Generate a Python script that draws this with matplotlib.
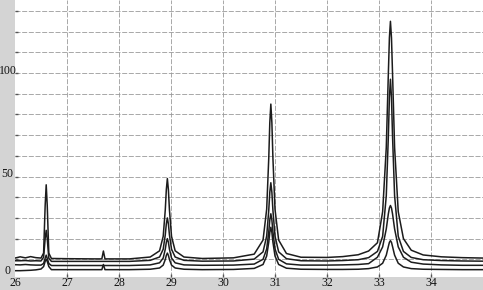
import matplotlib.pyplot as plt

# shared x positions (2-theta)
x = [26.0, 26.1, 26.2, 26.3, 26.4, 26.5, 26.55, 26.58, 26.6, 26.62, 26.65, 26.7,
     27.0, 27.5, 27.67, 27.7, 27.73, 28.2,
     28.6, 28.78, 28.85, 28.89, 28.91, 28.93, 28.95, 28.97, 29.01, 29.08, 29.25, 29.6,
     30.2, 30.6, 30.77, 30.84, 30.88, 30.90, 30.92, 30.94, 30.96, 31.0, 31.07, 31.22, 31.5,
     32.0, 32.3, 32.6, 32.8, 32.97, 33.07, 33.14, 33.18, 33.20, 33.22, 33.24, 33.26,
     33.30, 33.37, 33.47, 33.62, 33.85, 34.2, 34.6, 35.0]

trace_a = [10.6, 11.2, 10.7, 11.3, 10.8, 10.6, 13, 36, 46, 36, 13, 10.4,
           10.3, 10.2, 10.2, 14, 10.2, 10.2,
           11.1, 14.1, 21.1, 33.9, 43.6, 49, 43.6, 33.9, 21.1, 14.1, 11.1, 10.4,
           10.7, 12.5, 19.3, 34.2, 58.9, 76, 85, 76, 58.9, 34.2, 19.3, 12.8, 11.0,
           10.9, 11.3, 12.2, 14.0, 18, 33, 64, 100, 117, 125, 117, 100,
           64, 33, 20, 14.4, 12.1, 11.2, 10.8, 10.6]

trace_b = [9.3, 9.3, 9.4, 9.2, 9.3, 9.2, 11, 20, 24, 20, 10.5, 9.0,
           9.0, 9.0, 9.0, 9.0, 9.0, 9.0,
           9.5, 11.1, 14.9, 21.8, 27.1, 30, 27.1, 21.8, 14.9, 11.1, 9.5, 9.1,
           9.2, 10.1, 13.6, 21.2, 33.7, 42.4, 47, 42.4, 33.7, 21.2, 13.6, 10.3, 9.3,
           9.2, 9.4, 9.8, 10.8, 13.8, 21.1, 40.7, 69.7, 88.2, 97, 88.2, 69.7,
           40.7, 21.1, 13.8, 10.9, 9.8, 9.4, 9.2, 9.1]

trace_c = [7.4, 7.3, 7.5, 7.3, 7.2, 7.2, 8, 10.5, 12, 10.5, 8, 7.0,
           7.0, 7.0, 7.0, 7.0, 7.0, 7.0,
           7.3, 8.3, 10.6, 14.9, 18.2, 20, 18.2, 14.9, 10.6, 8.3, 7.3, 7.1,
           7.2, 7.7, 10.0, 15.0, 23.3, 29, 32, 29, 23.3, 15.0, 10.0, 7.8, 7.2,
           7.2, 7.3, 7.5, 7.9, 11, 16, 24.7, 32, 34.8, 36, 34.8, 32,
           24.7, 16, 11, 8.6, 7.7, 7.3, 7.1, 7.1]

trace_d = [4.5, 4.5, 4.6, 4.7, 4.9, 5.3, 6.5, 9, 10, 9, 6.5, 5.0,
           5.0, 5.0, 5.0, 7.5, 5.0, 5.0,
           5.2, 5.8, 7.2, 9.9, 11.9, 13, 11.9, 9.9, 7.2, 5.8, 5.2, 5.0,
           5.1, 5.6, 7.5, 11.6, 18.3, 23, 25.5, 23, 18.3, 11.6, 7.5, 5.7, 5.2,
           5.1, 5.1, 5.2, 5.5, 6.3, 8.1, 12, 16.2, 18.2, 19, 18.2, 16.2,
           12, 8.1, 6.3, 5.5, 5.2, 5.1, 5.0, 5.0]

x_ticks = [26, 27, 28, 29, 30, 31, 32, 33, 34]
y_labels = [0, 50, 100]

W, H = 483, 290
fig = plt.figure(figsize=(W / 100, H / 100), dpi=100, facecolor='#d4d4d4')
ax = fig.add_axes([15 / W, 13 / H, 468 / W, 277 / H])
ax.set_facecolor('white')

for tr in [trace_d, trace_c, trace_b, trace_a]:
    ax.plot(x, tr, color='#1c1c1c', lw=1.1, zorder=3)

ax.set_xlim(26, 35.0)
ax.set_ylim(1.45, 135.3)

# dashed grid
ax.set_xticks(x_ticks[1:])
ax.set_yticks(range(10, 140, 10))
ax.grid(True, color='#9a9a9a', lw=0.6, dashes=(6, 2))
ax.tick_params(axis='both', direction='in', length=2, width=1, color='#555555',
               labelleft=False, labelbottom=False)
for s in ax.spines.values():
    s.set_visible(False)

font = dict(family='Liberation Serif', fontsize=8.5, color='#111111')
for t in x_ticks:
    ax.text(t, -0.022, str(t), transform=ax.get_xaxis_transform(),
            ha='center', va='center', clip_on=False, **font)
# y labels sit in the grey strip and spill into the plot
for v in y_labels:
    ax.text(-0.016, max(v, 3.0) + 1.2, str(v), transform=ax.get_yaxis_transform(),
            ha='center', va='center', clip_on=False, **font)

plt.savefig('out.png', dpi=100, facecolor=fig.get_facecolor())
